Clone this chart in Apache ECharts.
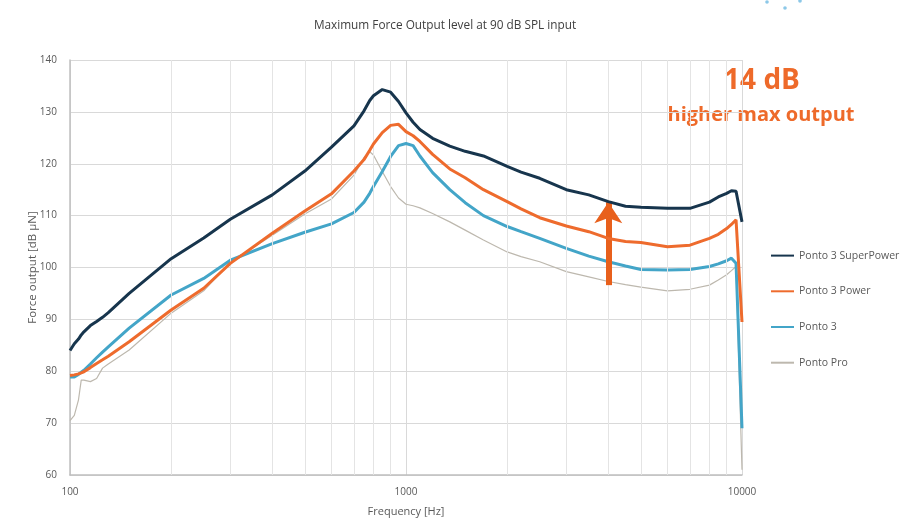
<!DOCTYPE html>
<html><head><meta charset="utf-8">
<script src="https://cdn.jsdelivr.net/npm/echarts@6/dist/echarts.min.js"></script>
<style>html,body{margin:0;padding:0;background:#fff}#c{width:900px;height:528px}</style>
</head><body><div id="c"></div>
<script>
const freqs = [100,103,106,108,110,115,120,125,130,150,200,250,300,400,500,600,700,750,780,800,850,900,950,1000,1050,1100,1200,1350,1500,1700,2000,2200,2500,3000,3500,4000,4500,5000,6000,7000,8000,8500,9000,9300,9600,10000];
const superPower = [84.0,85.3,86.2,87.0,87.6,88.8,89.6,90.4,91.3,95.0,101.7,105.7,109.3,114.0,118.6,123.2,127.3,130.2,132.2,133.1,134.3,133.8,132.0,129.8,128.0,126.6,124.9,123.4,122.4,121.5,119.5,118.4,117.2,115.0,114.0,112.7,111.8,111.6,111.4,111.4,112.6,113.6,114.3,114.8,114.7,108.8];
const power = [79.2,79.3,79.5,79.7,79.9,80.7,81.5,82.2,82.9,85.7,91.8,96.0,100.8,106.6,110.9,114.2,118.6,120.8,122.6,123.8,126.0,127.4,127.6,126.2,125.4,124.3,121.8,119.0,117.3,115.0,112.7,111.3,109.6,108.0,106.9,105.6,105.0,104.8,104.0,104.3,105.6,106.4,107.5,108.3,109.2,89.5];
const ponto3 = [78.9,78.9,79.4,79.8,80.2,81.4,82.6,83.7,84.7,88.3,94.7,97.9,101.4,104.6,106.8,108.4,110.6,112.6,114.3,115.6,118.5,121.4,123.5,123.9,123.5,121.5,118.3,115.0,112.5,110.0,107.9,106.9,105.6,103.7,102.2,101.1,100.3,99.6,99.5,99.6,100.2,100.7,101.3,101.8,100.8,69.0];
const pontoPro = [70.5,71.5,74.5,78.3,78.3,78.0,78.6,80.6,81.4,84.1,91.2,95.5,101.0,106.2,110.3,113.2,117.8,121.2,122.3,121.7,118.5,115.6,113.4,112.2,111.9,111.5,110.4,108.8,107.2,105.3,103.0,102.1,101.1,99.2,98.2,97.3,96.7,96.2,95.5,95.8,96.6,97.6,98.6,99.4,100.2,61.0];
const seriesNames = ['Ponto 3 SuperPower','Ponto 3 Power','Ponto 3','Ponto Pro'];
const minorFreqs = [200,300,400,500,600,700,800,900,2000,3000,4000,5000,6000,7000,8000,9000];
const arrowFreq = 4000;
const arrowFrom = 96.6;
const arrowTo = 112.6;

const chart = echarts.init(document.getElementById('c'), null, {renderer:'canvas'});
const pairs = vals => freqs.map((f,i)=>[f, vals[i]]);
const FONT = '"Open Sans", sans-serif';
const colors = ['#17354D','#EE6B2D','#43A5C8','#BDB8AE'];
const widths = [3,3,3,1.2];
const vals = [superPower, power, ponto3, pontoPro];

const series = [
  {
    name: '_minor', type: 'line', data: [], silent: true, z: 1,
    markLine: {
      silent: true, symbol: ['none','none'], label: {show:false},
      lineStyle: {color:'#e4e4e4', width:1, type:'solid'},
      emphasis: {disabled:true},
      data: minorFreqs.map(f => ({xAxis: f}))
    }
  }
];
[3,2,1,0].forEach(i => {
  series.push({
    name: seriesNames[i], type: 'line', data: pairs(vals[i]),
    symbol: 'none', showSymbol: false, smooth: false, z: 3 + (3-i),
    color: colors[i],
    lineStyle: {color: colors[i], width: widths[i]},
    emphasis: {disabled: true}
  });
});
series.push({
  name: '_arrow', type: 'line', data: [], silent: true, z: 10,
  markLine: {
    silent: true, symbol: ['none','arrow'], symbolSize: 21,
    label: {show:false}, emphasis: {disabled:true},
    lineStyle: {color:'#E8601C', width:6, type:'solid'},
    data: [[{coord:[arrowFreq, arrowFrom]}, {coord:[arrowFreq, arrowTo]}]]
  }
});

chart.setOption({
  animation: false,
  backgroundColor: '#ffffff',
  title: {
    text: 'Maximum Force Output level at 90 dB SPL input',
    left: 440, top: 15, textAlign: 'center',
    textStyle: {fontFamily: FONT, fontSize: 11.8, fontWeight: 'normal', color: '#404040'}
  },
  grid: {left: 70, right: 158, top: 60, bottom: 53},
  legend: {
    data: seriesNames, orient: 'vertical', left: 765, top: 245,
    itemWidth: 23, itemHeight: 14, itemGap: 24.5,
    itemStyle: {opacity: 0},
    textStyle: {fontFamily: FONT, fontSize: 10.5, color: '#595959'}
  },
  xAxis: {
    type: 'log', logBase: 10, min: 100, max: 10000, splitNumber: 2,
    name: 'Frequency [Hz]', nameLocation: 'middle', nameGap: 31,
    nameTextStyle: {fontFamily: FONT, fontSize: 11, color: '#595959'},
    axisLine: {show: true, lineStyle: {color: '#bfbfbf', width: 1.5}},
    axisTick: {show: false},
    axisLabel: {fontFamily: FONT, fontSize: 10, color: '#595959', margin: 12,
      formatter: v => String(Math.round(v))},
    splitLine: {show: true, lineStyle: {color: '#d9d9d9', width: 1}}
  },
  yAxis: {
    type: 'value', min: 60, max: 140, interval: 10,
    name: 'Force output [dB µN]', nameLocation: 'middle', nameGap: 31,
    nameMoveOverlap: false,
    nameTextStyle: {fontFamily: FONT, fontSize: 11.5, color: '#595959'},
    axisLine: {show: true, lineStyle: {color: '#bfbfbf', width: 1.5}},
    axisTick: {show: false},
    axisLabel: {fontFamily: FONT, fontSize: 10, color: '#595959', margin: 13},
    splitLine: {show: true, lineStyle: {color: '#d9d9d9', width: 1}}
  },
  graphic: [
    {type:'text', x: 762, y: 81, silent: true, style: {text: '14 dB', fill: '#EE6A2A',
      font: 'bold 28px "Open Sans", sans-serif', align: 'center', verticalAlign: 'middle'}},
    {type:'text', x: 761, y: 115, silent: true, style: {text: 'higher max output', fill: '#EE6A2A',
      font: 'bold 20px "Open Sans", sans-serif', align: 'center', verticalAlign: 'middle'}},
    {type:'circle', shape:{cx:767, cy:2, r:1.8}, style:{fill:'#8cc8e8'}, silent:true},
    {type:'circle', shape:{cx:785, cy:8, r:1.8}, style:{fill:'#8cc8e8'}, silent:true},
    {type:'circle', shape:{cx:800, cy:1, r:1.8}, style:{fill:'#8cc8e8'}, silent:true}
  ],
  series: series
});
</script></body></html>
